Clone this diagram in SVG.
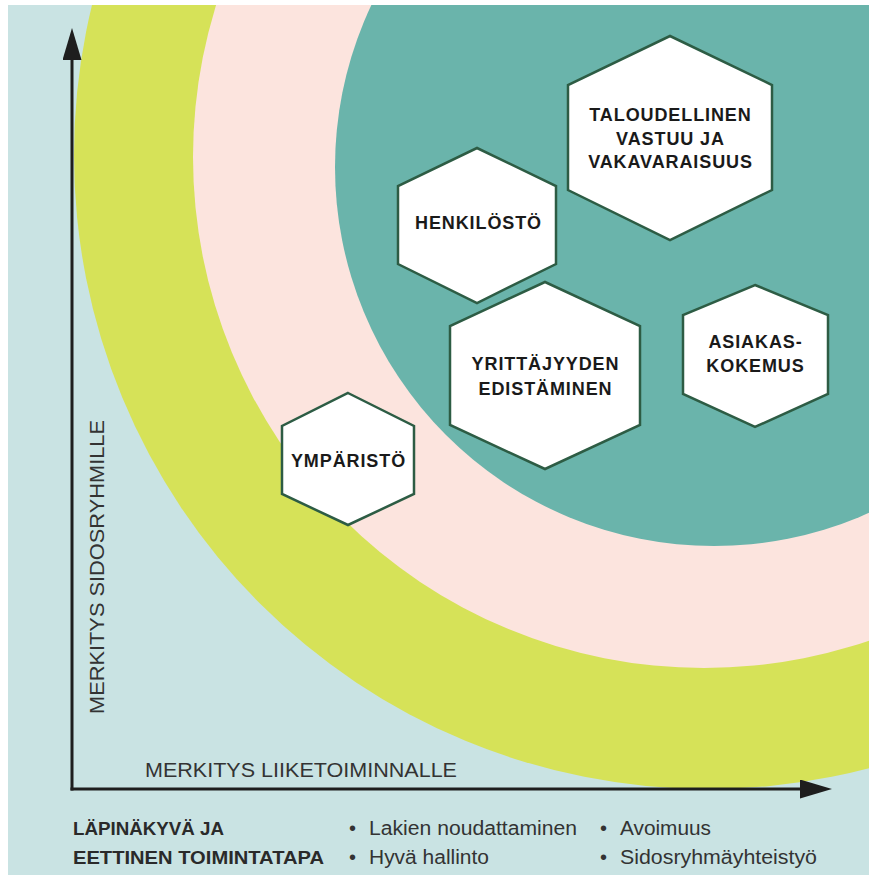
<svg xmlns="http://www.w3.org/2000/svg" width="877" height="881" viewBox="0 0 877 881">
<defs>
<style>
.hex{fill:#ffffff;stroke:#2d5c44;stroke-width:2.5;stroke-linejoin:miter}
.hl{font-family:"Liberation Sans",Arial,sans-serif;font-weight:bold;font-size:18px;fill:#1a1a1a;text-anchor:middle;letter-spacing:0.9px}
.ax{font-family:"Liberation Sans",Arial,sans-serif;font-size:20px;fill:#333333}
.bt{font-family:"Liberation Sans",Arial,sans-serif;font-weight:bold;font-size:19px;fill:#2a2a2a}
.bl{font-family:"Liberation Sans",Arial,sans-serif;font-size:20px;fill:#333333}
.axis{stroke:#1e1e1e;stroke-width:3;fill:none}
</style>
<clipPath id="frame"><rect x="8" y="5" width="861" height="870"/></clipPath>
<marker id="arr" markerUnits="userSpaceOnUse" markerWidth="32" markerHeight="19" refX="0" refY="9.5" orient="auto" viewBox="0 0 32 19">
<path d="M0,0 L32,9.5 L0,19 Z" fill="#1e1e1e"/>
</marker>
</defs>
<rect x="0" y="0" width="877" height="881" fill="#ffffff"/>
<g id="background" clip-path="url(#frame)">
<rect x="8" y="5" width="861" height="870" fill="#c9e3e3"/>
<circle cx="708" cy="155" r="634" fill="#d6e258"/>
<circle cx="704" cy="157" r="511" fill="#fce4de"/>
<circle cx="714" cy="167" r="379" fill="#6ab4ab"/>
</g>
<g id="connectors">
<line class="axis" x1="72" y1="790.5" x2="72" y2="60" marker-end="url(#arr)"/>
<line class="axis" x1="70.5" y1="789" x2="800" y2="789" marker-end="url(#arr)"/>
</g>
<g id="axis-labels">
<text class="ax" x="145" y="777" textLength="312" lengthAdjust="spacingAndGlyphs">MERKITYS LIIKETOIMINNALLE</text>
<text class="ax" transform="translate(104,714) rotate(-90)" x="0" y="0" textLength="294" lengthAdjust="spacingAndGlyphs">MERKITYS SIDOSRYHMILLE</text>
</g>
<g id="node-taloudellinen">
<polygon class="hex" points="670,36 772,85 772,190 670,240 568,190 568,85"/>
<text class="hl" x="670.5" y="121">TALOUDELLINEN</text>
<text class="hl" x="670.5" y="145">VASTUU JA</text>
<text class="hl" x="670.5" y="168">VAKAVARAISUUS</text>
</g>
<g id="node-henkilosto">
<polygon class="hex" points="477,148 556,186 556,264 477,303 398,264 398,186"/>
<text class="hl" x="478.5" y="228.5">HENKILÖSTÖ</text>
</g>
<g id="node-yrittajyyden">
<polygon class="hex" points="545,282 640,326 640,425 545,469 450,425 450,326"/>
<text class="hl" x="545.5" y="370">YRITTÄJYYDEN</text>
<text class="hl" x="545.5" y="395">EDISTÄMINEN</text>
</g>
<g id="node-asiakaskokemus">
<polygon class="hex" points="755,285 828,315 828,394 755,427 683,394 683,315"/>
<text class="hl" x="755.5" y="348">ASIAKAS-</text>
<text class="hl" x="755.5" y="372">KOKEMUS</text>
</g>
<g id="node-ymparisto">
<polygon class="hex" points="348,393 414,426 414,494 348,525 282,494 282,426"/>
<text class="hl" x="348.5" y="467">YMPÄRISTÖ</text>
</g>
<g id="legend">
<text class="bt" x="73" y="835" textLength="151" lengthAdjust="spacingAndGlyphs">LÄPINÄKYVÄ JA</text>
<text class="bt" x="73" y="864" textLength="251" lengthAdjust="spacingAndGlyphs">EETTINEN TOIMINTATAPA</text>
<text class="bl" x="349" y="835">•</text>
<text class="bl" x="369" y="835" textLength="208" lengthAdjust="spacingAndGlyphs">Lakien noudattaminen</text>
<text class="bl" x="349" y="864">•</text>
<text class="bl" x="369" y="864" textLength="120" lengthAdjust="spacingAndGlyphs">Hyvä hallinto</text>
<text class="bl" x="600" y="835">•</text>
<text class="bl" x="620" y="835" textLength="91" lengthAdjust="spacingAndGlyphs">Avoimuus</text>
<text class="bl" x="600" y="864">•</text>
<text class="bl" x="620" y="864" textLength="197" lengthAdjust="spacingAndGlyphs">Sidosryhmäyhteistyö</text>
</g>
</svg>
